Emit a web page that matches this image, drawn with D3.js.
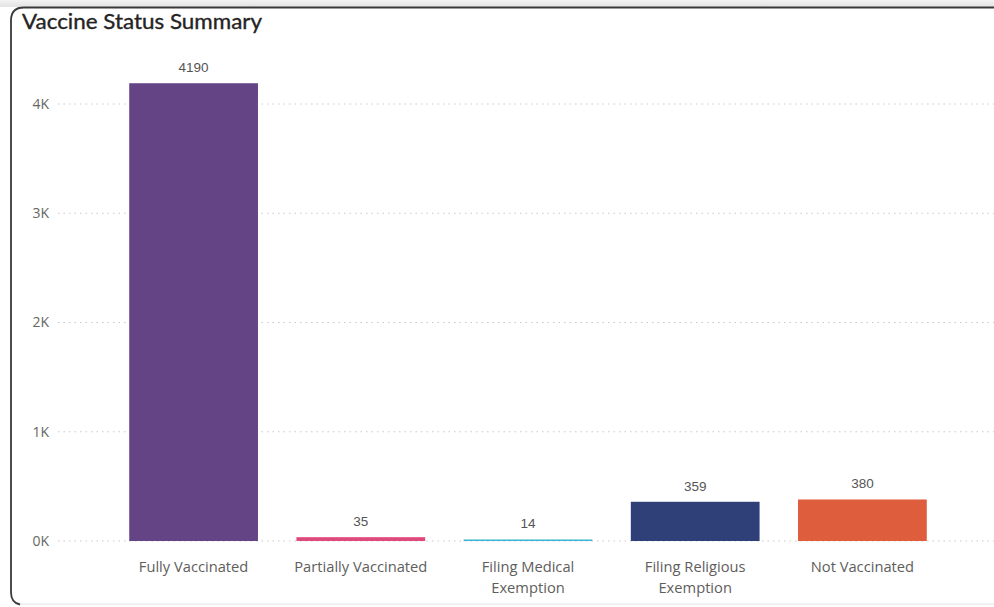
<!DOCTYPE html>
<html><head><meta charset="utf-8">
<script src="https://cdn.jsdelivr.net/npm/d3@7"></script>
<style>html,body{margin:0;padding:0;background:#fff;}svg{display:block;}</style>
</head><body>
<svg id="c" width="994" height="607"></svg>
<script>
const categories = ["Fully Vaccinated","Partially Vaccinated","Filing Medical Exemption","Filing Religious Exemption","Not Vaccinated"];
const categoryLines = [["Fully Vaccinated"],["Partially Vaccinated"],["Filing Medical","Exemption"],["Filing Religious","Exemption"],["Not Vaccinated"]];
const values = [4190, 35, 14, 359, 380];
const colors = ["#654486","#DE4A7B","#3CB7D3","#2F3F78","#DE5D3C"];
const yTicks = [0,1000,2000,3000,4000];
const yTickLabels = ["0K","1K","2K","3K","4K"];
const title = "Vaccine Status Summary";

const svg = d3.select("#c");
const g0 = svg.append("defs").append("linearGradient").attr("id","sh").attr("x1",0).attr("x2",0).attr("y1",0).attr("y2",1);
g0.append("stop").attr("offset","0").attr("stop-color","#f3f3f3");
g0.append("stop").attr("offset","1").attr("stop-color","#e2e2e2");
svg.append("rect").attr("x",0).attr("y",0).attr("width",994).attr("height",7).attr("fill","url(#sh)");
svg.append("path").attr("d","M 1000 7.5 L 24 7.5 Q 11 7.5 11 20.5 L 11 592 Q 11 604 23 604 L 1000 604")
  .attr("fill","#fff").attr("stroke","#e6e6e6").attr("stroke-width",1.2);
svg.append("path").attr("d","M 1000 7.5 L 24 7.5 Q 11 7.5 11 20.5 L 11 592 Q 11 603 20 604.5")
  .attr("fill","none").attr("stroke","#3a3a3a").attr("stroke-width",1.8);

svg.append("text").attr("x",22).attr("y",29).text(title)
  .attr("font-family","Lato, 'Noto Sans', sans-serif").attr("font-size",21).attr("font-weight",400).attr("fill","#252423")
  .attr("stroke","#252423").attr("stroke-width",0.35)
  .attr("textLength",240).attr("lengthAdjust","spacingAndGlyphs");

const y = d3.scaleLinear().domain([0,4000]).range([541,104]);
const x = d3.scaleBand().domain(categories).range([110,946]).paddingInner(0.23).paddingOuter(0.115);

svg.append("g").selectAll("line").data(yTicks).join("line")
  .attr("x1",58).attr("x2",994).attr("y1",d=>y(d)).attr("y2",d=>y(d))
  .attr("stroke","#c8c8c8").attr("stroke-width",1).attr("stroke-dasharray","1.5,4");

const yAxis = d3.axisLeft(y).tickValues(yTicks).tickFormat((d,i)=>yTickLabels[i]).tickSize(0).tickPadding(0);
const ya = svg.append("g").attr("transform","translate(49,0)").call(yAxis);
ya.select(".domain").remove();
ya.selectAll("text").attr("font-family","'Open Sans', sans-serif").attr("font-size",14).attr("fill","#666");

svg.append("g").selectAll("rect").data(values).join("rect")
  .attr("x",(d,i)=>x(categories[i])).attr("width",x.bandwidth())
  .attr("y",d=>y(d)).attr("height",d=>y(0)-y(d)).attr("fill",(d,i)=>colors[i]);

svg.append("g").selectAll("text").data(values).join("text")
  .attr("x",(d,i)=>x(categories[i])+x.bandwidth()/2).attr("y",d=>y(d)-11)
  .attr("text-anchor","middle").attr("font-family","'Liberation Sans', Arial, sans-serif")
  .attr("font-size",13.5).attr("fill","#555").text(d=>d);

const xa = svg.append("g");
categoryLines.forEach((lines,i)=>{
  const t = xa.append("text").attr("x",x(categories[i])+x.bandwidth()/2).attr("y",572)
    .attr("text-anchor","middle").attr("font-family","'Open Sans', sans-serif").attr("font-size",14.7).attr("fill","#605e5c");
  lines.forEach((l,j)=>t.append("tspan").attr("x",x(categories[i])+x.bandwidth()/2).attr("dy",j===0?0:21).text(l));
});
</script>
</body></html>
